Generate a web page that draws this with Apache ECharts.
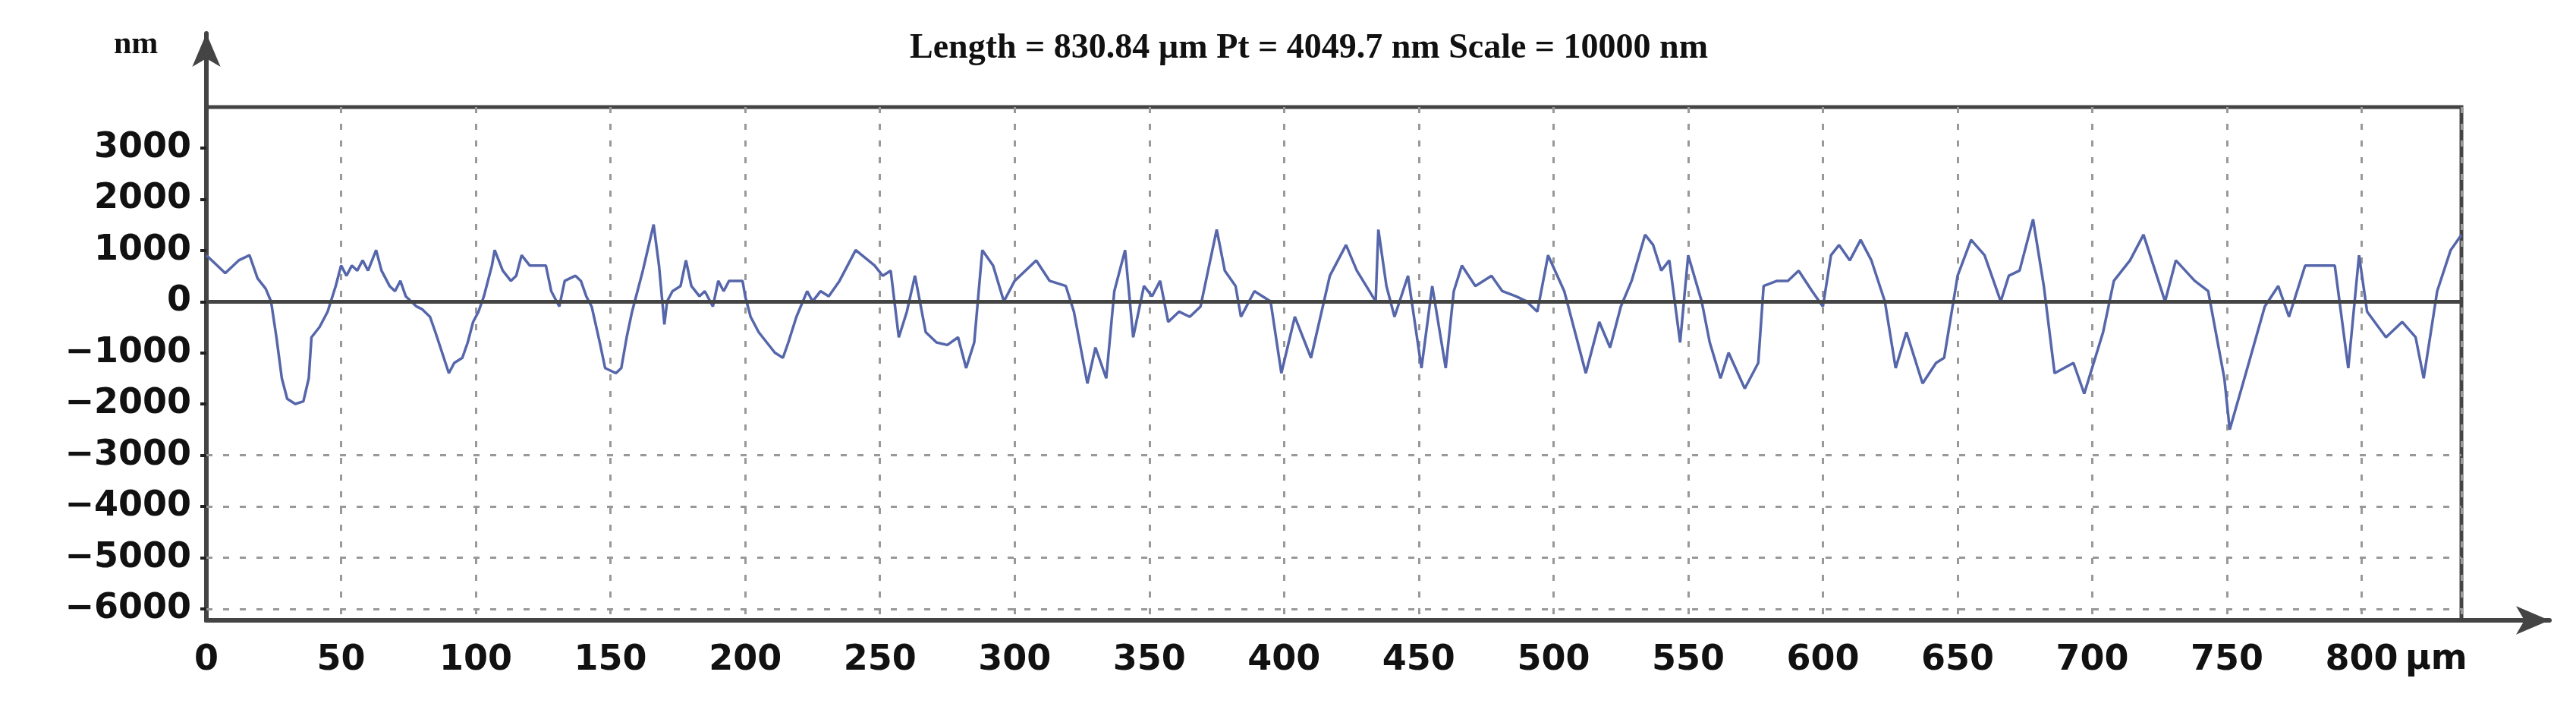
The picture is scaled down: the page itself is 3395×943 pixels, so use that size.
<!DOCTYPE html>
<html>
<head>
<meta charset="utf-8">
<script src="https://cdn.jsdelivr.net/npm/echarts@6/dist/echarts.min.js"></script>
<style>
  html, body { margin: 0; padding: 0; background: #fff; }
  #chart { width: 3395px; height: 943px; }
</style>
</head>
<body>
<div id="chart"></div>
<script>
// profile position (µm) and height (nm)
var xs = [0,3,7,12,16,19,22,24,26,28,30,33,36,38,39,42,45,48,50,52,54,56,58,60,63,65,68,70,72,74,76,78,80,83,85,90,92,95,97,99,101,103,106,107,110,113,115,117,120,123,126,128,130,131,133,137,139,141,143,146,148,152,154,156,158,160,162,166,168,170,171,173,176,178,180,183,185,188,190,192,194,196,199,200,202,205,208,211,214,216,219,223,225,228,231,235,241,248,251,254,257,260,263,267,271,275,279,282,285,288,292,296,300,308,313,319,322,327,330,334,337,341,344,348,351,354,357,361,365,369,375,378,382,384,389,395,399,404,410,417,423,427,434,435,438,441,446,451,455,460,463,466,471,477,481,486,490,494,498,504,508,512,517,521,525,529,534,537,540,543,547,550,555,558,562,565,571,576,578,583,587,591,596,600,603,606,610,614,618,623,627,631,637,642,645,650,655,660,666,669,673,678,682,686,693,697,704,708,714,719,727,731,738,743,749,751,757,764,769,773,779,790,795,799,802,809,815,820,823,828,833,837];
var ys = [900,750,550,800,900,450,250,0,-700,-1500,-1900,-2000,-1950,-1500,-700,-500,-200,300,700,500,700,600,800,600,1000,600,300,200,400,100,0,-100,-150,-300,-600,-1400,-1200,-1100,-800,-400,-200,100,700,1000,600,400,500,900,700,700,700,200,0,-100,400,500,400,100,-100,-800,-1300,-1400,-1300,-700,-200,200,600,1500,700,-450,0,200,300,800,300,100,200,-100,400,200,400,400,400,100,-300,-600,-800,-1000,-1100,-800,-300,200,0,200,100,400,1000,700,500,600,-700,-200,500,-600,-800,-850,-700,-1300,-800,1000,700,0,400,800,400,300,-200,-1600,-900,-1500,200,1000,-700,300,100,400,-400,-200,-300,-100,1400,600,300,-300,200,0,-1400,-300,-1100,500,1100,600,0,1400,300,-300,500,-1300,300,-1300,200,700,300,500,200,100,0,-200,900,200,-600,-1400,-400,-900,-100,400,1300,1100,600,800,-800,900,0,-800,-1500,-1000,-1700,-1200,300,400,400,600,200,-100,900,1100,800,1200,800,0,-1300,-600,-1600,-1200,-1100,500,1200,900,0,500,600,1600,300,-1400,-1200,-1800,-600,400,800,1300,0,800,400,200,-1500,-2500,-1400,-100,300,-300,700,700,-1300,900,-200,-700,-400,-700,-1500,200,1000,1300];
var xTicks = { min: 0, max: 837, step: 50 };
var yTicks = { min: -6000, max: 3000, step: 1000 };
var dashedLevels = [-3000, -4000, -5000, -6000];
var titleText = 'Length = 830.84 µm Pt = 4049.7 nm Scale = 10000 nm';

var profile = xs.map(function (x, i) { return [x, ys[i]]; });
var axisColor = '#444';
var labelFont = { color: '#111', fontSize: 46, fontFamily: 'DejaVu Sans', fontWeight: 'bold' };
function plain(v) { return String(v).replace('-', '\u2212'); }

var chart = echarts.init(document.getElementById('chart'));
chart.setOption({
  animation: false,
  title: {
    text: titleText, left: 1720, top: 36, textAlign: 'center',
    textStyle: { fontFamily: 'Liberation Serif', fontSize: 46, fontWeight: 'bold', color: '#111' }
  },
  graphic: [
    { type: 'text', left: 150, top: 38, style: { text: 'nm', font: 'bold 42px Liberation Serif', fill: '#111' } },
    { type: 'text', left: 3170, top: 846, style: { text: 'µm', font: 'bold 46px DejaVu Sans', fill: '#111' } }
  ],
  grid: [
    { left: 272, top: 141, width: 2972, height: 676, show: true, borderColor: axisColor, borderWidth: 5 },
    { left: 272, top: 195, width: 2972, height: 607 },
    { left: 272, top: 44, width: 3088, height: 773 }
  ],
  xAxis: [
    {
      gridIndex: 0, type: 'value', min: xTicks.min, max: xTicks.max, interval: xTicks.step,
      axisLine: { show: false },
      axisTick: { show: false },
      axisLabel: Object.assign({ margin: 30, showMaxLabel: false, formatter: plain }, labelFont),
      splitLine: { show: true, lineStyle: { color: '#999', type: [8, 14], width: 3 } }
    },
    { gridIndex: 1, type: 'value', show: false, min: 0, max: 1 },
    {
      gridIndex: 2, type: 'value', min: 0, max: 1,
      axisLine: { show: true, symbol: ['none', 'arrow'], symbolSize: [28, 44], lineStyle: { color: axisColor, width: 6 } },
      axisTick: { show: false }, axisLabel: { show: false }, splitLine: { show: false }
    }
  ],
  yAxis: [
    {
      gridIndex: 0, type: 'value', min: -6220, max: 3790,
      axisLine: { show: false }, axisTick: { show: false }, axisLabel: { show: false }, splitLine: { show: false }
    },
    {
      gridIndex: 1, type: 'value', min: yTicks.min, max: yTicks.max, interval: yTicks.step,
      axisLine: { show: false },
      axisTick: { show: true, length: 8, lineStyle: { color: '#222', width: 4 } },
      axisLabel: Object.assign({ margin: 20, formatter: plain }, labelFont),
      splitLine: { show: false }
    },
    {
      gridIndex: 2, type: 'value', min: 0, max: 1,
      axisLine: { show: true, symbol: ['none', 'arrow'], symbolSize: [28, 44], lineStyle: { color: axisColor, width: 6 } },
      axisTick: { show: false }, axisLabel: { show: false }, splitLine: { show: false }
    }
  ],
  series: [{
    type: 'line', xAxisIndex: 0, yAxisIndex: 0, data: profile,
    showSymbol: false, lineStyle: { color: '#5566aa', width: 3.5 },
    markLine: {
      silent: true, symbol: 'none', label: { show: false },
      data: dashedLevels.map(function (v) {
        return { yAxis: v, lineStyle: { color: '#999', type: [8, 14], width: 3 } };
      }).concat([{ yAxis: 0, lineStyle: { color: '#444', type: 'solid', width: 5 } }])
    }
  }]
});
</script>
</body>
</html>
